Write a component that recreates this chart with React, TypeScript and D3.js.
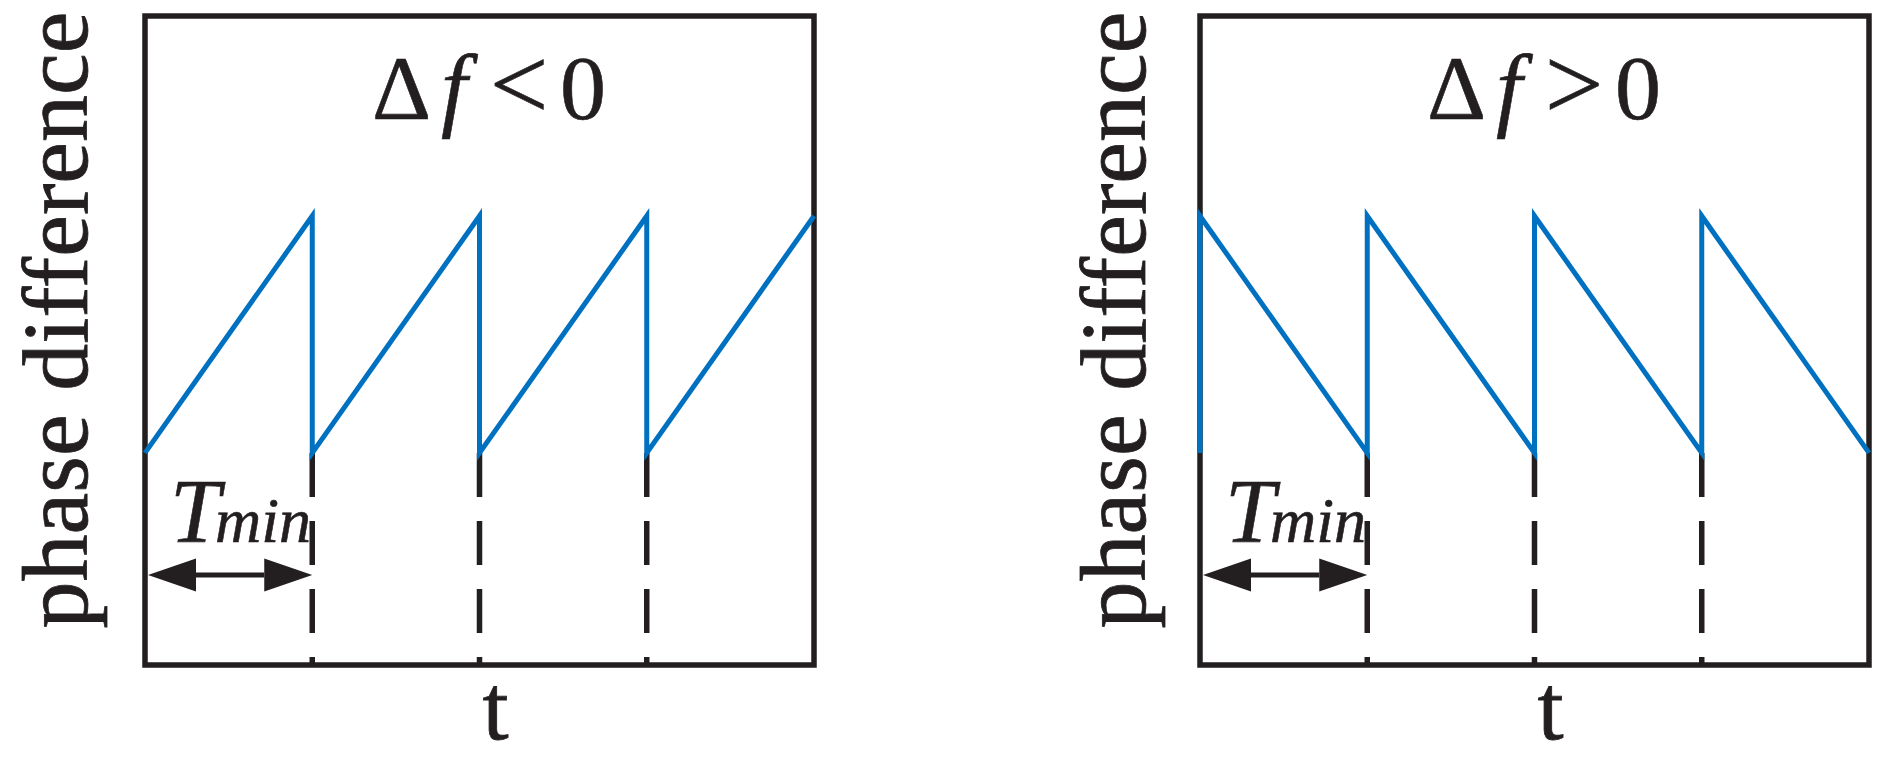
import React from "react";
import * as d3 from "d3";

// ---- data ----
const periodTicks = [0, 1, 2, 3, 4];
const leftT = [0, 1, 1, 2, 2, 3, 3, 4];
const leftPhase = [0, 1, 0, 1, 0, 1, 0, 1];
const rightT = [0, 0, 1, 1, 2, 2, 3, 3, 4];
const rightPhase = [0, 1, 0, 1, 0, 1, 0, 1, 0];
const dashedTicks = [1, 2, 3];
const panelTitles = ["<", ">"];
const yLabel = "phase difference";
const xLabel = "t";

const W = 1881;
const H = 760;
const BLACK = "#231f20";
const BLUE = "#0071c0";
const FONT = "Liberation Serif, Times New Roman, serif";

type PanelProps = { left: number; labelX: number; ts: number[]; ps: number[]; op: string };

function Panel({ left, labelX, ts, ps, op }: PanelProps) {
  const x = d3.scaleLinear().domain([0, 4]).range([left, left + 669]);
  const y = d3.scaleLinear().domain([-0.895, 1.844]).range([665, 16]);
  const pts: [number, number][] = ts.map((t, i) => [t, ps[i]]);
  const line = d3
    .line<[number, number]>()
    .x((d) => x(d[0]))
    .y((d) => y(d[1]));
  const x0 = x(periodTicks[0]);
  const x1 = x(periodTicks[1]);
  const arrowY = 575;
  const hl = 48;
  const hh = 16.5;
  return (
    <g>
      {/* y label */}
      <text
        transform={`translate(${labelX},${320}) rotate(-90)`}
        textAnchor="middle"
        fontFamily={FONT}
        fontSize={94}
        fill={BLACK}
        stroke={BLACK}
        strokeWidth={0.8}
      >
        {yLabel}
      </text>
      {/* dashed guides */}
      {dashedTicks.map((t) => (
        <line
          key={t}
          x1={x(t)}
          x2={x(t)}
          y1={y(0)}
          y2={y.range()[0]}
          stroke={BLACK}
          strokeWidth={5.5}
          strokeDasharray="44 24"
        />
      ))}
      {/* frame */}
      <rect
        x={x.range()[0]}
        y={y.range()[1]}
        width={x.range()[1] - x.range()[0]}
        height={y.range()[0] - y.range()[1]}
        fill="none"
        stroke={BLACK}
        strokeWidth={5.5}
      />
      {/* sawtooth */}
      <path d={line(pts) || ""} fill="none" stroke={BLUE} strokeWidth={5} strokeLinejoin="miter" />
      {/* title */}
      <g fill={BLACK} stroke={BLACK} strokeWidth={0.6} fontFamily={FONT}>
        <text x={left + 227} y={119} fontSize={92}>
          Δ
        </text>
        <text x={left + 296} y={119} fontStyle="italic" fontSize={94}>
          f
        </text>
        <text x={left + 374} y={119} textAnchor="middle" fontSize={104}>
          {op}
        </text>
        <text x={left + 438} y={119} textAnchor="middle" fontSize={92}>
          0
        </text>
      </g>
      {/* Tmin */}
      <g fill={BLACK} stroke={BLACK} strokeWidth={0.6} fontFamily={FONT} fontStyle="italic">
        <text x={x0 + 25} y={542} fontSize={90}>
          T
        </text>
        <text x={x0 + 70} y={542} fontSize={64}>
          min
        </text>
      </g>
      {/* arrow */}
      <line x1={x0 + hl} x2={x1 - hl} y1={arrowY} y2={arrowY} stroke={BLACK} strokeWidth={5} />
      <path
        d={`M${x0 + 3},${arrowY} L${x0 + 3 + hl},${arrowY - hh} L${x0 + 3 + hl},${arrowY + hh} Z`}
        fill={BLACK}
      />
      <path d={`M${x1},${arrowY} L${x1 - hl},${arrowY - hh} L${x1 - hl},${arrowY + hh} Z`} fill={BLACK} />
      {/* x label */}
      <text
        x={(x.range()[0] + x.range()[1]) / 2 + 16}
        y={739}
        textAnchor="middle"
        fontFamily={FONT}
        fontSize={94}
        fill={BLACK}
        stroke={BLACK}
        strokeWidth={0.8}
      >
        {xLabel}
      </text>
    </g>
  );
}

export default function App() {
  return (
    <svg width={W} height={H} style={{ position: "absolute", left: 0, top: 0, background: "#fff" }}>
      <rect width={W} height={H} fill="#fff" />
      <Panel left={145} labelX={87} ts={leftT} ps={leftPhase} op={panelTitles[0]} />
      <Panel left={1200} labelX={1145} ts={rightT} ps={rightPhase} op={panelTitles[1]} />
    </svg>
  );
}
